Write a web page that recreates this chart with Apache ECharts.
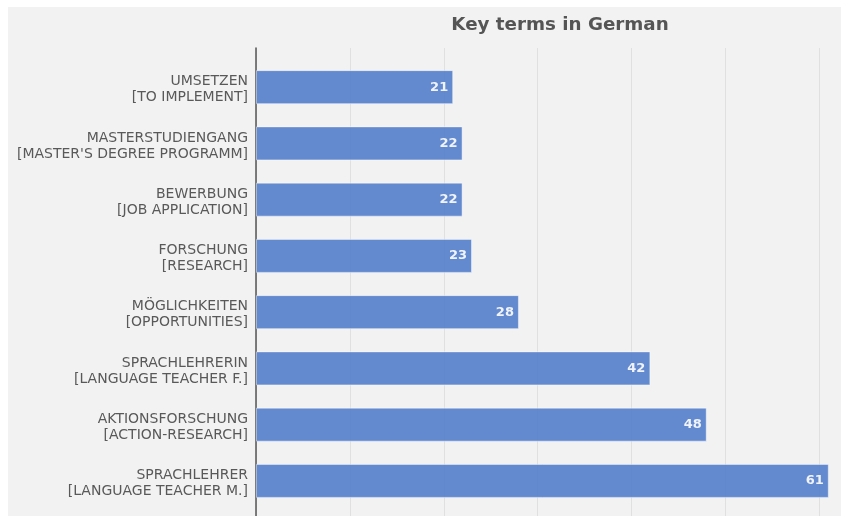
<!DOCTYPE html>
<html><head><meta charset="utf-8">
<script src="https://cdn.jsdelivr.net/npm/echarts@6/dist/echarts.min.js"></script>
<style>html,body{margin:0;padding:0;background:#fff}#c{width:841px;height:516px}</style>
</head><body><div id="c"></div>
<script>
const categories = [
  "UMSETZEN\n[TO IMPLEMENT]",
  "MASTERSTUDIENGANG\n[MASTER'S DEGREE PROGRAMM]",
  "BEWERBUNG\n[JOB APPLICATION]",
  "FORSCHUNG\n[RESEARCH]",
  "MÖGLICHKEITEN\n[OPPORTUNITIES]",
  "SPRACHLEHRERIN\n[LANGUAGE TEACHER F.]",
  "AKTIONSFORSCHUNG\n[ACTION-RESEARCH]",
  "SPRACHLEHRER\n[LANGUAGE TEACHER M.]"
];
const values = [21, 22, 22, 23, 28, 42, 48, 61];
const titleText = "Key terms in German";

const chart = echarts.init(document.getElementById('c'), null, {renderer: 'canvas'});
const font = "DejaVu Sans";
const xMax = 62.3;
chart.setOption({
  animation: false,
  backgroundColor: '#ffffff',
  graphic: [{type: 'rect', z: -10, silent: true, shape: {x: 8, y: 7, width: 833, height: 509}, style: {fill: '#f2f2f2'}}],
  title: {text: titleText, left: 555, top: 11, textAlign: 'center',
    textStyle: {fontFamily: font, fontSize: 18.3, fontWeight: 'bold', color: '#555555'}},
  grid: [
    {left: 256, right: 0, top: 59, bottom: 7, containLabel: false},
    {left: 256, right: 0, top: 48, bottom: 0, containLabel: false}
  ],
  xAxis: [
    {gridIndex: 0, type: 'value', min: 0, max: xMax, interval: 10, show: true,
      axisLine: {show: false}, axisTick: {show: false}, axisLabel: {show: false}, splitLine: {show: false}},
    {gridIndex: 1, type: 'value', min: 0, max: xMax, interval: 10,
      axisLine: {show: false}, axisTick: {show: false}, axisLabel: {show: false},
      splitLine: {show: true, lineStyle: {color: '#e0e0e0', width: 1}}}
  ],
  yAxis: [
    {gridIndex: 0, type: 'category', data: categories, inverse: true,
      axisLine: {show: false}, axisTick: {show: false},
      axisLabel: {margin: 8, align: 'right',
        formatter: v => '{z| }\n' + v.split('\n').map(s => '{t|' + s + '}').join('\n'),
        rich: {
          z: {fontSize: 1, lineHeight: 5, align: 'right'},
          t: {fontFamily: font, fontSize: 14, color: '#595959', lineHeight: 16, align: 'right'}
        }}},
    {gridIndex: 1, type: 'value', min: 0, max: 1,
      axisLine: {show: true, lineStyle: {color: '#555555', width: 1.5}},
      axisTick: {show: false}, axisLabel: {show: false}, splitLine: {show: false}}
  ],
  series: [{
    type: 'bar', xAxisIndex: 0, yAxisIndex: 0, data: values, barWidth: 34, z: 5,
    itemStyle: {color: '#537dcb', opacity: 0.9, borderColor: 'rgba(255,255,255,0.5)', borderWidth: 1},
    label: {show: true, position: 'insideRight', distance: 5, color: '#ffffff',
      fontFamily: font, fontSize: 13, fontWeight: 'bold'}
  }]
});
</script></body></html>
